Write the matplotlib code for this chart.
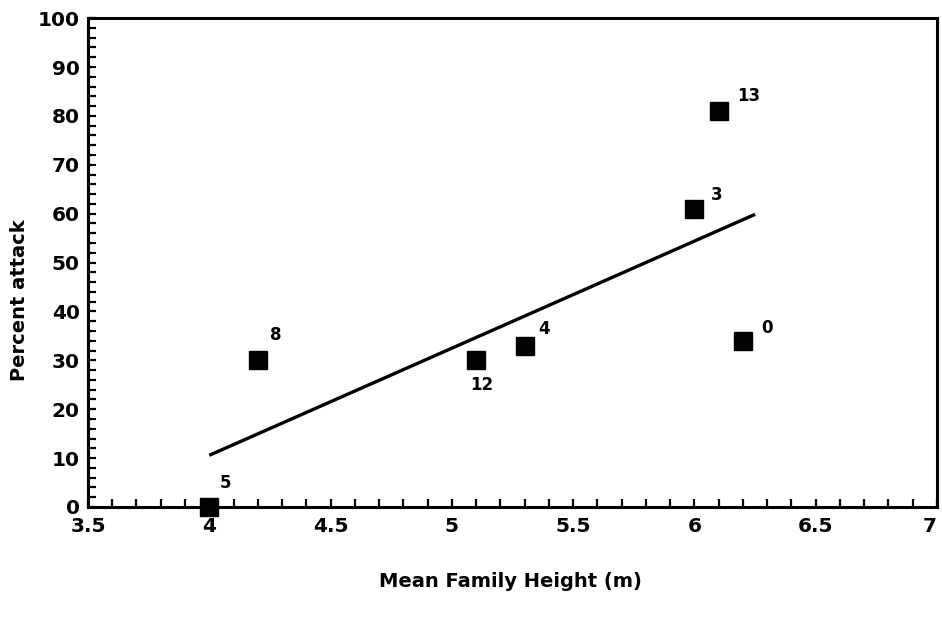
import numpy as np
import matplotlib.pyplot as plt
from matplotlib.ticker import MultipleLocator

### Data.
height = [4.0, 4.2, 5.1, 5.3, 6.0, 6.1, 6.2]   # mean family height (m)
attack = [0, 30, 30, 33, 61, 81, 34]           # percent attack
point_labels = ["5", "8", "12", "4", "3", "13", "0"]
fit_range = [4.0, 6.25]                        # x extent of the fitted line

# Offsets (points) of each label from its marker.
label_offsets = [(12, 17), (13, 18), (4, -18), (14, 12), (16, 10), (22, 11), (17, 9)]

plt.rcParams['font.family'] = ['DejaVu Sans']
plt.rcParams['font.weight'] = 'bold'

fig = plt.figure(figsize=(9.42, 6.25), dpi=100)
ax = fig.add_axes([0.0934, 0.1888, 0.9013, 0.7822])

# Least squares line through the points.
slope, intercept = np.polyfit(height, attack, 1)
xf = np.array(fit_range)
ax.plot(xf, slope * xf + intercept, color="black", linewidth=2.4, solid_capstyle="butt")

ax.plot(height, attack, linestyle="none", marker="s", markersize=13,
        color="black", clip_on=False, zorder=3)

for x, y, lab, off in zip(height, attack, point_labels, label_offsets):
    ax.annotate(lab, (x, y), xytext=off, textcoords="offset points",
                ha="center", va="center", fontsize=12, fontweight="bold")

ax.set_xlim(3.5, 7)
ax.set_ylim(0, 100)
ax.xaxis.set_minor_locator(MultipleLocator(0.1))
ax.yaxis.set_major_locator(MultipleLocator(10))
ax.yaxis.set_minor_locator(MultipleLocator(2))
ax.set_xticks(np.arange(3.5, 7.01, 0.5))
ax.set_xticklabels(["3.5", "4", "4.5", "5", "5.5", "6", "6.5", "7"])

ax.tick_params(which="both", direction="in", width=1.6, length=6, labelsize=14.5)
ax.tick_params(axis="x", which="both", top=False, pad=7)
ax.tick_params(axis="y", which="both", right=False, pad=6)
for s in ax.spines.values():
    s.set_linewidth(2.2)

for t in ax.get_xticklabels() + ax.get_yticklabels():
    t.set_fontweight("bold")
ax.get_xticklabels()[-1].set_horizontalalignment("right")  # keep "7" inside the figure

fig.text(0.542, 0.069, "Mean Family Height (m)", ha="center", va="center",
         fontsize=14, fontweight="bold")
fig.text(0.021, 0.52, "Percent attack", ha="center", va="center",
         rotation=90, fontsize=14, fontweight="bold")

fig.savefig("out.png", dpi=100)
